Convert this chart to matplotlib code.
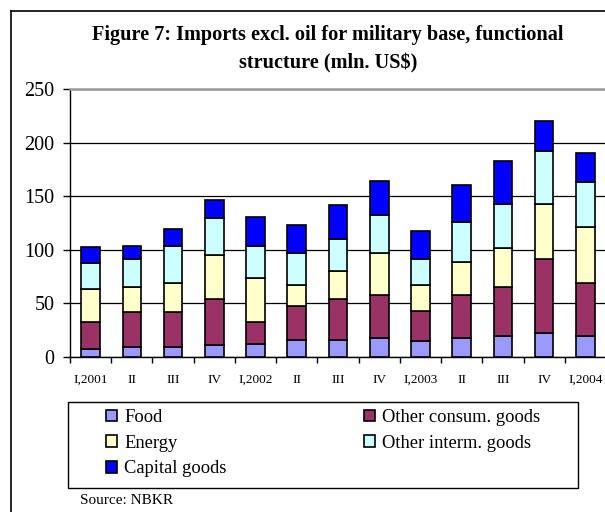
import matplotlib
matplotlib.use("Agg")
import matplotlib.pyplot as plt
from matplotlib.patches import Rectangle
from matplotlib.lines import Line2D
import numpy as np

# quarters (mln. US$)
quarters = ["I,2001", "II", "III", "IV", "I,2002", "II", "III", "IV",
            "I,2003", "II", "III", "IV", "I,2004"]
food = [7, 9, 9, 11, 12.5, 16, 16, 18, 15, 18, 20, 22, 20]
other_consum = [26, 33, 33, 43, 20.5, 32, 38, 40, 28, 40, 45, 69, 49]
energy = [30, 23, 27, 41, 41, 19, 26, 39, 24, 31, 37, 52, 52.5]
other_interm = [25, 26, 35, 35, 30, 30, 30, 35, 24, 37, 41, 49, 42]
capital = [15, 13, 15, 16, 27, 26, 32, 32, 26.5, 34, 40, 28, 26.5]

series = [("Food", food, "#9999FF"),
          ("Other consum. goods", other_consum, "#993366"),
          ("Energy", energy, "#FFFFCC"),
          ("Other interm. goods", other_interm, "#CCFFFF"),
          ("Capital goods", capital, "#0000FF")]

W, H = 605, 512
plt.rcParams['font.family'] = ['Liberation Serif', 'DejaVu Serif']

fig = plt.figure(figsize=(W / 100, H / 100), dpi=100)
ax = fig.add_axes([70 / W, 1 - 357 / H, 536 / W, 268 / H])

x = np.arange(len(quarters))
bottom = np.zeros(len(quarters))
handles = {}
for name, vals, col in series:
    b = ax.bar(x, vals, 0.45, bottom=bottom, color=col, edgecolor="black",
               linewidth=1.2, zorder=3, label=name)
    handles[name] = b
    bottom += np.array(vals)

ax.set_xlim(-0.5, len(quarters) - 0.5)
ax.set_ylim(0, 250)
ax.set_yticks(range(0, 251, 50))
ax.yaxis.grid(True, color="black", linewidth=0.9, zorder=0)
ax.tick_params(axis="y", labelsize=14.5, length=5, width=1, direction="out", pad=6)
ax.set_xticks(x)
ax.set_xticklabels(quarters)
ax.tick_params(axis="x", which="major", length=0, labelsize=9.5, pad=12)
ax.set_xticks(np.arange(-0.5, len(quarters), 1), minor=True)
ax.tick_params(axis="x", which="minor", length=4, width=1, direction="out")
ax.spines["top"].set_color("#999999")
ax.spines["top"].set_linewidth(1.8)
ax.spines["right"].set_color("#999999")
for s in ("left", "bottom"):
    ax.spines[s].set_linewidth(1)

fig.text(328 / W, 1 - 35 / H, "Figure 7: Imports excl. oil for military base, functional",
         ha="center", va="center", fontsize=14.6, fontweight="bold")
fig.text(328 / W, 1 - 63 / H, "structure (mln. US$)",
         ha="center", va="center", fontsize=14.6, fontweight="bold")

# outer frame of the chart (cut off at right and bottom)
fig.add_artist(Line2D([11 / W, 1.0], [1 - 11 / H] * 2, color="black", lw=1.2,
                      transform=fig.transFigure))
fig.add_artist(Line2D([11 / W] * 2, [0.0, 1 - 11 / H], color="black", lw=1.2,
                      transform=fig.transFigure))

# legend box
fig.add_artist(Rectangle((68 / W, 1 - 488 / H), 510 / W, 86 / H, fill=False,
                         edgecolor="black", lw=1, transform=fig.transFigure))
order = ["Food", "Energy", "Capital goods", "Other consum. goods", "Other interm. goods"]
fig.legend([handles[n] for n in order], order, ncol=2, frameon=False,
           loc="upper left", bbox_to_anchor=(106 / W, 1 - 409 / H),
           bbox_transform=fig.transFigure, borderaxespad=0, borderpad=0,
           fontsize=13.3, handlelength=0.6, handleheight=0.6, handletextpad=0.4,
           columnspacing=7.4, labelspacing=0.47)

fig.text(80 / W, 1 - 501 / H, "Source: NBKR", ha="left", va="center", fontsize=11)

fig.savefig("out.png", dpi=100)
